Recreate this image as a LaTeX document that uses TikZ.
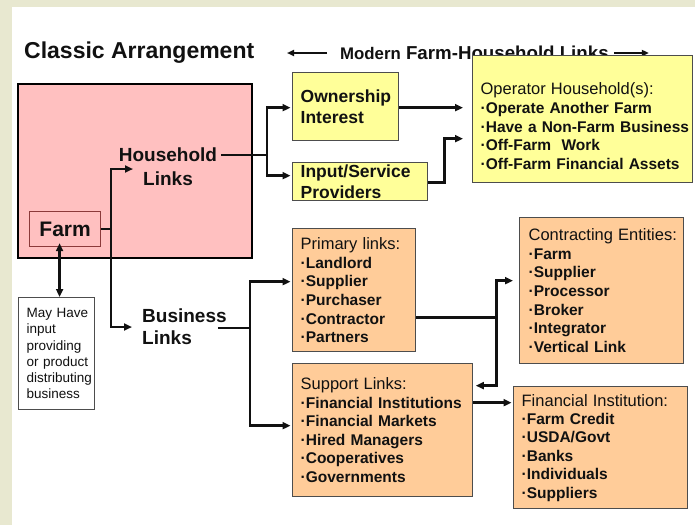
\documentclass[tikz,border=0pt]{standalone}
\usepackage{fontspec}
\setmainfont{Liberation Sans}
\usetikzlibrary{arrows.meta,calc}
\definecolor{pinkfill}{HTML}{FFC0C0}
\definecolor{yel}{HTML}{FFFF99}
\definecolor{org}{HTML}{FFCC99}
\definecolor{bgtex}{HTML}{E8E8D0}
\definecolor{boxline}{HTML}{4D4D4D}
\definecolor{farmline}{HTML}{8B3A3A}
\definecolor{ink}{HTML}{111111}
\tikzset{
  conn/.style={line width=2.4pt, draw=ink},
  arr/.style={conn, -{Triangle[length=8pt,width=7pt]}, shorten >=1.5pt},
  darr/.style={conn, {Triangle[length=8pt,width=7pt]}-{Triangle[length=8pt,width=7pt]}},
  harr/.style={line width=2pt, draw=ink, -{Triangle[length=7pt,width=6pt]}},
  basebox/.style={draw=boxline, line width=1.3pt, anchor=north west, inner xsep=8pt, inner ysep=2pt,
    align=left, text=ink, execute at begin node={\hyphenpenalty=10000\exhyphenpenalty=10000}},
  ybox/.style={basebox, fill=yel},
  obox/.style={basebox, fill=org, font=\fontsize{15.5}{18.7}\selectfont\bfseries},
  bigtxt/.style={text=ink, font=\fontsize{19}{24}\selectfont\bfseries, inner ysep=0pt},
}
\newcommand{\boxtitle}[1]{\mbox{\fontsize{16.5}{18.7}\selectfont\mdseries #1}}
\newcommand{\oneline}[1]{\mbox{#1}}
\begin{document}
\begin{tikzpicture}[x=1pt,y=-1pt]
\useasboundingbox (0,0) rectangle (695,525);
\fill[bgtex] (0,0) rectangle (695,525);
\fill[white] (12,7) rectangle (695,525);

% titles
\node[anchor=west, inner sep=0pt, text=ink, font=\fontsize{23}{26}\selectfont\bfseries] (classic) at (24,53) {Classic Arrangement};
\node[anchor=west, inner sep=0pt, text=ink, font=\fontsize{18.7}{22}\selectfont\bfseries] (hdr) at (340,53) {{\fontsize{16.8}{20}\selectfont Modern} Farm-Household Links};
\draw[harr] ([xshift=-13pt]hdr.west) -- ++(-40,0);
\draw[harr] ([xshift=5pt]hdr.east) -- ++(35,0);

% classic arrangement
\node[draw=black, line width=1.8pt, fill=pinkfill, anchor=north west, minimum width=234pt, minimum height=174pt] (classicbox) at (17,83) {};
\node[draw=farmline, line width=1.2pt, anchor=north west, minimum width=71pt, minimum height=35pt, inner sep=0pt, text=ink, font=\fontsize{21}{24}\selectfont\bfseries] (farm) at (29,211) {Farm};
\node[bigtxt, align=center, inner xsep=4pt] (hh) at (168,167) {Household\\Links};
\node[bigtxt, align=left, anchor=west, inner xsep=0pt, font=\fontsize{19}{22}\selectfont\bfseries] (biz) at (142,327) {Business\\Links};
\node[draw=boxline, line width=1.2pt, anchor=north west, minimum width=76pt, minimum height=112pt, inner xsep=8pt, inner ysep=2pt, text width=60pt, align=left, text=ink, font=\fontsize{13.5}{16.2}\selectfont, execute at begin node={\hyphenpenalty=10000}] (note) at (18,297) {\oneline{May Have}\\input\\providing\\\oneline{or product}\\\oneline{distributing}\\business};
\coordinate (hhin) at (133,169);

% household side boxes
\node[ybox, minimum width=106pt, minimum height=68pt, text width=90pt, font=\fontsize{17.5}{20.5}\selectfont\bfseries] (own) at (292,72) {Ownership\\Interest};
\node[ybox, minimum width=135pt, minimum height=38pt, text width=119pt, font=\fontsize{17.5}{20.5}\selectfont\bfseries] (inp) at (292,162) {\oneline{Input/Service}\\Providers};
\node[ybox, minimum width=220pt, minimum height=127pt, text width=204pt, font=\fontsize{15.5}{18.75}\selectfont\bfseries] (op) at (472,55) {\rule{0pt}{26pt}\boxtitle{Operator Household(s):}\\\oneline{·Operate Another Farm}\\\oneline{·Have a Non-Farm Business}\\\oneline{·Off-Farm~ Work}\\\oneline{·Off-Farm Financial Assets}};

% business side boxes
\node[obox, minimum width=123pt, minimum height=123pt, text width=107pt] (prim) at (292,228) {\boxtitle{Primary links:}\\·Landlord\\·Supplier\\·Purchaser\\·Contractor\\·Partners};
\node[obox, minimum width=180pt, minimum height=133pt, text width=164pt, font=\fontsize{15.5}{18.6}\selectfont\bfseries] (supp) at (292,363) {\boxtitle{Support Links:}\\\oneline{·Financial Institutions}\\\oneline{·Financial Markets}\\\oneline{·Hired Managers}\\·Cooperatives\\·Governments};
\node[obox, minimum width=164pt, minimum height=146pt, text width=146pt, inner xsep=9pt, font=\fontsize{15.5}{18.67}\selectfont\bfseries] (cont) at (519,217) {\boxtitle{Contracting Entities:}\\·Farm\\·Supplier\\·Processor\\·Broker\\·Integrator\\\oneline{·Vertical Link}};
\node[obox, minimum width=174pt, minimum height=122pt, text width=158pt, font=\fontsize{15.5}{18.4}\selectfont\bfseries] (fin) at (513,386) {\boxtitle{Financial Institution:}\\\oneline{·Farm Credit}\\·USDA/Govt\\·Banks\\·Individuals\\·Suppliers};

% connectors
\draw[conn] (farm.east) -- ++(10,0) coordinate (fj);
\draw[arr, shorten >=0pt] (fj) |- (hhin);
\draw[arr, shorten >=10pt] (fj) |- (biz.west);
\draw[darr, shorten <=-4pt] ($(farm.south)+(-5.5,0)$) coordinate (fa) -- (fa |- note.north);

\draw[conn] ($(hh.east)+(0,-12)$) -- ++(46,0) coordinate (hj);
\draw[arr] (hj) |- ($(own.west)+(0,1)$);
\draw[arr] (hj) |- ($(inp.west)+(0,-6)$);
\draw[arr, shorten >=9pt] ($(own.east)+(0,1)$) coordinate (o1) -- (o1 -| op.west);
\draw[arr, shorten >=9pt] ($(inp.east)+(0,1)$) -- ++(16,0) |- ($(op.west)+(0,19.5)$);

\draw[conn] ($(biz.east)+(-9,1)$) -- ++(32,0) coordinate (bj);
\draw[arr] (bj) |- ($(prim.west)+(0,-8.5)$);
\draw[arr] (bj) |- ($(supp.west)+(0,-4.5)$);
\draw[conn] ($(prim.east)+(0,27.5)$) -- ++(80,0) coordinate (pj);
\draw[arr, shorten >=6pt] (pj) |- ($(cont.west)+(0,-10)$);
\draw[arr, shorten >=2.5pt] (pj) |- ($(supp.east)+(0,-44.5)$);
\draw[arr] ($(supp.east)+(0,-27.5)$) coordinate (s1) -- (s1 -| fin.west);
\end{tikzpicture}
\end{document}
